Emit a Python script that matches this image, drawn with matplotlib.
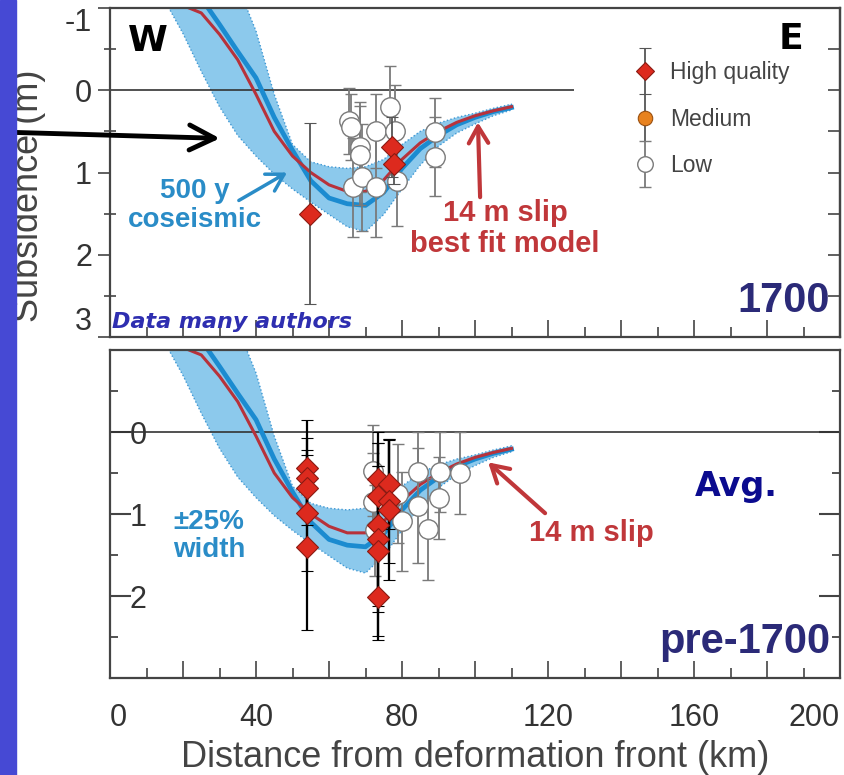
import matplotlib
matplotlib.use("Agg")
import matplotlib.pyplot as plt
from matplotlib.patches import Rectangle
from matplotlib.container import ErrorbarContainer
from matplotlib.legend_handler import HandlerErrorbar

plt.rcParams["font.family"] = ["Liberation Sans", "DejaVu Sans"]

# ---------------------------------------------------------------
# model curves (distance from deformation front in km, subsidence in m, positive down)
# ---------------------------------------------------------------
best_fit_km = [20, 25, 30, 35, 40, 45, 50, 55, 60, 65, 70, 75, 80, 85, 90, 95, 100, 105, 110]
best_fit_s = [-1.03, -0.94, -0.68, -0.37, 0.05, 0.50, 0.80, 1.00, 1.15, 1.23, 1.23, 1.09,
              0.84, 0.64, 0.50, 0.39, 0.31, 0.25, 0.20]

cosei_km = [25, 30, 35, 40, 45, 50, 55, 60, 65, 70, 75, 80, 85, 90, 95, 100, 105, 110]
cosei_s = [-1.12, -0.80, -0.47, -0.15, 0.33, 0.73, 1.10, 1.31, 1.38, 1.40, 1.24, 0.95,
           0.71, 0.55, 0.42, 0.33, 0.26, 0.21]

# +-25% width envelope: deep edge and shallow edge
band_deep_km = [15.5, 20, 25, 30, 35, 40, 45, 50, 55, 60, 65, 70, 75, 80, 85, 90, 95, 100, 105, 110]
band_deep_s = [-1.05, -0.69, -0.23, 0.20, 0.55, 0.80, 1.02, 1.20, 1.36, 1.51, 1.66, 1.72, 1.51,
               1.20, 0.91, 0.68, 0.52, 0.41, 0.31, 0.24]
band_shal_km = [37, 40, 45, 50, 55, 60, 65, 70, 75, 80, 85, 90, 95, 100, 105, 110]
band_shal_s = [-1.05, -0.72, 0.05, 0.66, 0.87, 0.93, 0.95, 0.93, 0.84, 0.66, 0.50, 0.40,
               0.33, 0.28, 0.22, 0.17]

# ---------------------------------------------------------------
# 1700 observations
# ---------------------------------------------------------------
high1700_km = [54.8, 77.2, 77.8]
high1700_s = [1.50, 0.69, 0.90]
high1700_err = [1.10, 0.36, 0.24]

low1700_km = [65.5, 66, 66.5, 68.5, 68.5, 69, 73, 73, 76.7, 78, 78.5, 89, 89]
low1700_s = [0.37, 0.45, 1.18, 0.69, 0.79, 1.06, 0.49, 1.18, 0.20, 0.49, 1.10, 0.51, 0.81]
low1700_err = [0.40, 0.40, 0.60, 0.55, 0.60, 0.65, 0.45, 0.60, 0.50, 0.55, 0.55, 0.42, 0.48]

# ---------------------------------------------------------------
# pre-1700 observations (averaged)
# ---------------------------------------------------------------
highpre_km = [54, 54, 54, 54, 54, 73.5, 73.5, 73.5, 73.5, 73.5, 73.5, 76.5, 76.5, 76.5]
highpre_s = [0.44, 0.56, 0.68, 0.99, 1.40, 0.57, 0.78, 1.13, 1.30, 1.45, 2.01, 0.63, 0.84, 0.95]
highpre_err = [0.59, 0.49, 0.46, 0.71, 1.02, 0.57, 0.64, 0.99, 0.89, 1.04, 0.53, 0.55, 0.76, 0.85]

lowpre_km = [72, 72, 72.5, 79, 80, 84.5, 84.5, 87, 90, 90.5, 96]
lowpre_s = [0.47, 0.85, 1.20, 0.75, 1.09, 0.49, 0.90, 1.18, 0.80, 0.49, 0.50]
lowpre_err = [0.55, 0.60, 0.55, 0.60, 0.60, 0.49, 0.70, 0.62, 0.50, 0.49, 0.50]

x_ticks = list(range(0, 201, 20))
x_labels = [str(t) if t % 40 == 0 else "" for t in x_ticks]

# colours
STRIP = "#4649d4"
BAND = "#8cc9ec"
BAND_EDGE = "#3e97d3"
BLUE = "#1b8bd0"
RED = "#b7323b"
DIAMOND = "#dd2a1e"
DIAMOND_EDGE = "#8a1a12"
NAVY = "#2b2a78"


def draw_models(ax):
    band_x = band_deep_km + band_shal_km[::-1]
    band_y = band_deep_s + band_shal_s[::-1]
    ax.fill(band_x, band_y, color=BAND, lw=0, zorder=1)
    ax.plot(band_x, band_y, color=BAND_EDGE, lw=1.0, ls=":", zorder=1.5)
    ax.plot(cosei_km, cosei_s, color=BLUE, lw=3.4, zorder=2, solid_joinstyle="round")
    ax.plot(best_fit_km, best_fit_s, color=RED, lw=2.2, zorder=2.5, solid_joinstyle="round")


def style_axis(ax):
    ax.set_xlim(0, 200)
    ax.set_ylim(3, -1)
    ax.set_xticks(x_ticks, labels=x_labels)
    ax.set_xticks(range(10, 200, 20), minor=True)
    ax.set_yticks([-0.5, 0.5, 1.5, 2.5], minor=True)
    ax.tick_params(axis="x", which="major", direction="in", length=12, width=1.2, color="#444")
    ax.tick_params(axis="x", which="minor", direction="in", length=7, width=1.2, color="#444")
    for sp in ax.spines.values():
        sp.set_color("#444")
        sp.set_linewidth(1.6)


fig = plt.figure(figsize=(8.44, 7.75), dpi=100)
fig.patches.append(Rectangle((0, 0), 16 / 844, 1, transform=fig.transFigure,
                             color=STRIP, zorder=0))

ax1 = fig.add_axes([110 / 844, 1 - 337 / 775, 730 / 844, 329 / 775])
ax2 = fig.add_axes([110 / 844, 1 - 678 / 775, 730 / 844, 328 / 775])

# ------------------------- top panel: 1700 -------------------------
style_axis(ax1)
draw_models(ax1)
ax1.hlines(0, 0, 127, color="#333", lw=1.2, zorder=1.8)

low_c = ax1.errorbar(low1700_km, low1700_s, yerr=low1700_err, fmt="o", ms=14, mfc="white",
                     mec="#7a7a7a", mew=1.0, ecolor="#7a7a7a", elinewidth=1.3, capsize=4.5,
                     capthick=1.3, zorder=4, label="Low")
high_c = ax1.errorbar(high1700_km, high1700_s, yerr=high1700_err, fmt="D", ms=11.5,
                      mfc=DIAMOND, mec=DIAMOND_EDGE, mew=0.8, ecolor="#555", elinewidth=1.3,
                      capsize=4.5, capthick=1.3, zorder=5, label="High quality")
med_c = ax1.errorbar([], [], yerr=[], fmt="o", ms=13, mfc="#e8821e", mec="#9a5010", mew=0.8,
                     ecolor="#555", elinewidth=1.3, capsize=4.5, capthick=1.3, label="Medium")

leg = ax1.legend(handles=[high_c, med_c, low_c], loc="upper left",
                 bbox_to_anchor=(0.717, 0.838), frameon=False, fontsize=16.5,
                 handlelength=1.0, handletextpad=0.6, borderpad=0, borderaxespad=0,
                 labelspacing=1.02, markerscale=0.8,
                 handler_map={ErrorbarContainer: HandlerErrorbar(yerr_size=1.0)})
for t in leg.get_texts():
    t.set_color("#444")

ax1.set_yticks([-1, 0, 1, 2, 3], labels=["-1", "0", "1", "2", "3"])
ax1.tick_params(axis="y", which="major", direction="out", length=9, width=1.2,
                color="#444", labelsize=22, labelcolor="#333", pad=4)
ax1.tick_params(axis="y", which="minor", direction="inout", length=9, width=1.2, color="#444")
ax1.tick_params(axis="x", labelbottom=False)
ylab = ax1.get_yticklabels()
ylab[0].set_va("top")
ylab[-1].set_va("bottom")

sec1 = ax1.secondary_yaxis("right")
sec1.set_yticks([-0.5, 0, 0.5, 1, 1.5, 2, 2.5])
sec1.tick_params(direction="in", length=9, width=1.2, color="#444", labelright=False)
sec1.spines["right"].set_color("#444")
sec1.spines["right"].set_linewidth(1.6)

ax1.set_ylabel("Subsidence (m)", fontsize=26, color="#444")
ax1.yaxis.set_label_coords(-0.087, 0.43)

ax1.text(10.4, -0.60, "W", fontsize=26, fontweight="bold", family="DejaVu Sans",
         ha="center", va="center", color="black")
ax1.text(186.6, -0.62, "E", fontsize=26, fontweight="bold", family="DejaVu Sans",
         ha="center", va="center", color="black")
ax1.text(23.3, 1.40, "500 y\ncoseismic", fontsize=20, fontweight="bold", color="#2a8cc7",
         ha="center", va="center", linespacing=1.15)
ax1.annotate("", xy=(48.5, 1.0), xytext=(35.3, 1.34),
             arrowprops=dict(arrowstyle="->,head_length=0.6,head_width=0.35", color="#2a8cc7",
                             lw=2.5, mutation_scale=20, shrinkA=0, shrinkB=0))
ax1.text(108.2, 1.68, "14 m slip\nbest fit model", fontsize=21, fontweight="bold", color="#c0373a",
         ha="center", va="center", linespacing=1.15)
ax1.annotate("", xy=(100.8, 0.39), xytext=(101.4, 1.30),
             arrowprops=dict(arrowstyle="->,head_length=0.6,head_width=0.35", color="#c0373a",
                             lw=3, mutation_scale=20, shrinkA=0, shrinkB=0))
ax1.text(197.3, 2.70, "1700", fontsize=30, fontweight="bold", color=NAVY,
         ha="right", va="baseline")
ax1.text(0.6, 2.89, "Data many authors", fontsize=16, fontweight="bold", style="italic",
         family="DejaVu Sans", color="#2e2eb0", ha="left", va="baseline", zorder=6)
ax1.annotate("", xy=(30.1, 0.585), xycoords="data", xytext=(0.0, 1 - 132 / 775),
             textcoords="figure fraction", annotation_clip=False,
             arrowprops=dict(arrowstyle="->,head_length=0.9,head_width=0.45", color="black",
                             lw=3.5, mutation_scale=20, shrinkA=0, shrinkB=0))

# ------------------------- bottom panel: pre-1700 -------------------------
style_axis(ax2)
draw_models(ax2)
ax2.axhline(0, color="#333", lw=1.2, zorder=1.8)

ax2.errorbar(lowpre_km, lowpre_s, yerr=lowpre_err, fmt="o", ms=14, mfc="white",
             mec="#7a7a7a", mew=1.0, ecolor="#7a7a7a", elinewidth=1.3, capsize=4.5,
             capthick=1.3, zorder=4)
ax2.errorbar(highpre_km, highpre_s, yerr=highpre_err, fmt="D", ms=11.5, mfc=DIAMOND,
             mec=DIAMOND_EDGE, mew=0.8, ecolor="black", elinewidth=1.6, capsize=4.5,
             capthick=1.6, zorder=5)

ax2.set_yticks([0, 1, 2], labels=["0", "1", "2"])
ax2.tick_params(axis="y", which="major", direction="in", length=15, width=1.5, color="#444",
                labelsize=22, labelcolor="#333", pad=-26.5, right=True)
ax2.tick_params(axis="y", which="minor", direction="in", length=6, width=1.3, color="#444",
                right=True)
ax2.tick_params(axis="x", which="major", labelsize=22, labelcolor="#333", pad=18)
xl = ax2.get_xticklabels()
xl[0].set_ha("left")
xl[-1].set_ha("right")
ax2.set_xlabel("Distance from deformation front (km)", fontsize=26, color="#444", labelpad=5)

ax2.text(27.1, 1.27, "\u00b125%\nwidth", fontsize=20, fontweight="bold", color="#2a8cc7",
         ha="center", va="center", linespacing=1.1)
ax2.text(132, 1.23, "14 m slip", fontsize=21, fontweight="bold", color="#c0373a",
         ha="center", va="center")
ax2.annotate("", xy=(103.6, 0.37), xytext=(119.2, 0.99),
             arrowprops=dict(arrowstyle="->,head_length=0.6,head_width=0.35", color="#c0373a",
                             lw=3, mutation_scale=20, shrinkA=0, shrinkB=0))
ax2.text(171.5, 0.78, "Avg.", fontsize=24, fontweight="bold", family="DejaVu Sans",
         color="#0b0b8f", ha="center", va="baseline")
ax2.text(197.3, 2.69, "pre-1700", fontsize=30, fontweight="bold", color=NAVY,
         ha="right", va="baseline")

fig.savefig("out.png", dpi=100)
